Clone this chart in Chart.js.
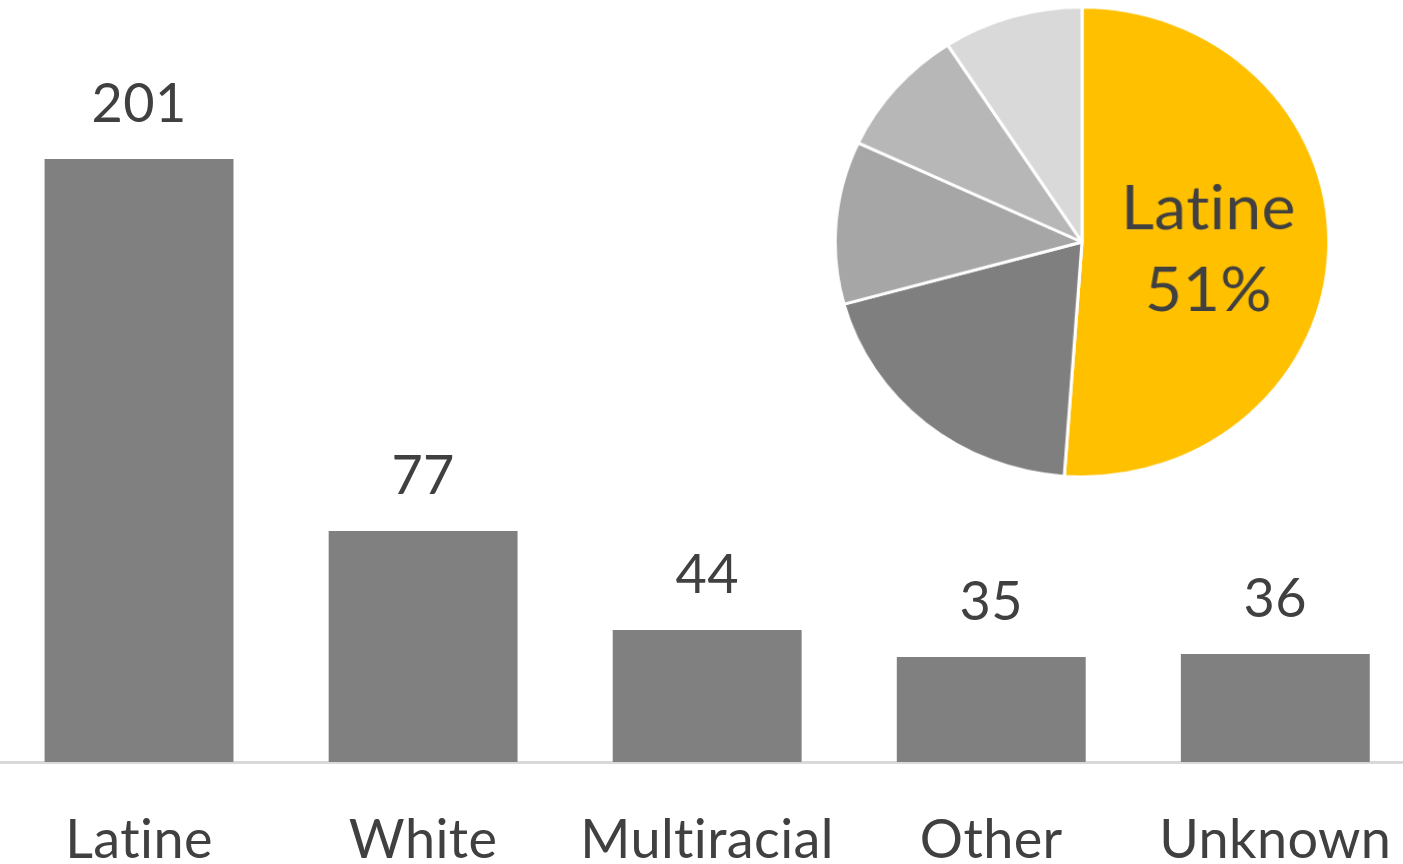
<!DOCTYPE html>
<html>
<head>
<meta charset="utf-8">
<script src="https://cdn.jsdelivr.net/npm/chart.js@4.4.1/dist/chart.umd.min.js"></script>
<style>
  html, body { margin: 0; padding: 0; background: #fff; overflow: hidden; }
  #barWrap { position: absolute; left: -3px; top: 0; width: 1439px; height: 864px; }
  #pieWrap { position: absolute; left: 842px; top: 2px; width: 480px; height: 480px; transform: scale(1.035, 0.985); }
</style>
</head>
<body>
<div id="barWrap"><canvas id="barChart" width="1439" height="864"></canvas></div>
<div id="pieWrap"><canvas id="pieChart" width="480" height="480"></canvas></div>
<script>
// Datos del gráfico
const categorias = ["Latine", "White", "Multiracial", "Other", "Unknown"];
const conteos = [201, 77, 44, 35, 36];
const coloresPie = ["#FFC000", "#7F7F7F", "#A6A6A6", "#B7B7B7", "#D9D9D9"];
const ejeYMax = 254;

const colorTexto = "#404040";
const fuente = "Lato";

// Plugin: sin ligaduras ("ti") en el texto del canvas
const sinLigaduras = {
    id: "sinLigaduras",
    beforeDraw(chart) {
        chart.ctx.letterSpacing = "0.4px";
    }
};

// Plugin: números encima de cada barra
const etiquetasValor = {
    id: "etiquetasValor",
    afterDatasetsDraw(chart) {
        const ctx = chart.ctx;
        const meta = chart.getDatasetMeta(0);
        ctx.save();
        ctx.font = "54px " + fuente;
        ctx.fillStyle = colorTexto;
        ctx.textAlign = "center";
        ctx.textBaseline = "alphabetic";
        meta.data.forEach((bar, i) => {
            ctx.fillText(String(conteos[i]), bar.x, bar.y - 37); // Valor sobre la barra
        });
        ctx.restore();
    }
};

// Plugin: etiqueta de la porción mayor del pastel
const etiquetaPie = {
    id: "etiquetaPie",
    afterDatasetsDraw(chart) {
        const ctx = chart.ctx;
        const arco = chart.getDatasetMeta(0).data[0];
        const pos = arco.tooltipPosition();
        const total = conteos.reduce((a, b) => a + b, 0);
        const pct = Math.round(conteos[0] / total * 100) + "%";
        ctx.save();
        ctx.font = "62px " + fuente;
        ctx.fillStyle = colorTexto;
        ctx.textAlign = "center";
        ctx.textBaseline = "middle";
        ctx.fillText(categorias[0], pos.x + 3, pos.y - 37);
        ctx.fillText(pct, pos.x + 3, pos.y + 46);
        ctx.restore();
    }
};

function dibujar() {
    // Gráfico de barras
    new Chart(document.getElementById("barChart"), {
        type: "bar",
        data: {
            labels: categorias,
            datasets: [{
                data: conteos,
                backgroundColor: "#808080",
                borderWidth: 0,
                categoryPercentage: 1,
                barPercentage: 0.665
            }]
        },
        options: {
            responsive: false,
            animation: false,
            layout: { padding: 0 },
            plugins: { legend: { display: false }, tooltip: { enabled: false } },
            scales: {
                x: {
                    grid: { display: false, drawTicks: false },
                    border: { display: true, color: "#D9D9D9", width: 3 },
                    ticks: {
                        padding: 46,
                        color: colorTexto,
                        font: { family: fuente, size: 54 }
                    },
                    afterFit(scale) {
                        scale.height = 102; // Alto fijo para el eje X
                    }
                },
                y: {
                    display: false,
                    min: 0,
                    max: ejeYMax
                }
            }
        },
        plugins: [sinLigaduras, etiquetasValor]
    });

    // Gráfico de pastel
    new Chart(document.getElementById("pieChart"), {
        type: "pie",
        data: {
            labels: categorias,
            datasets: [{
                data: conteos,
                backgroundColor: coloresPie,
                borderColor: "#FFFFFF",
                borderWidth: 3
            }]
        },
        options: {
            responsive: false,
            animation: false,
            layout: { padding: 0 },
            plugins: { legend: { display: false }, tooltip: { enabled: false } }
        },
        plugins: [sinLigaduras, etiquetaPie]
    });
}

document.fonts.load("54px " + fuente).then(dibujar, dibujar);
</script>
</body>
</html>
